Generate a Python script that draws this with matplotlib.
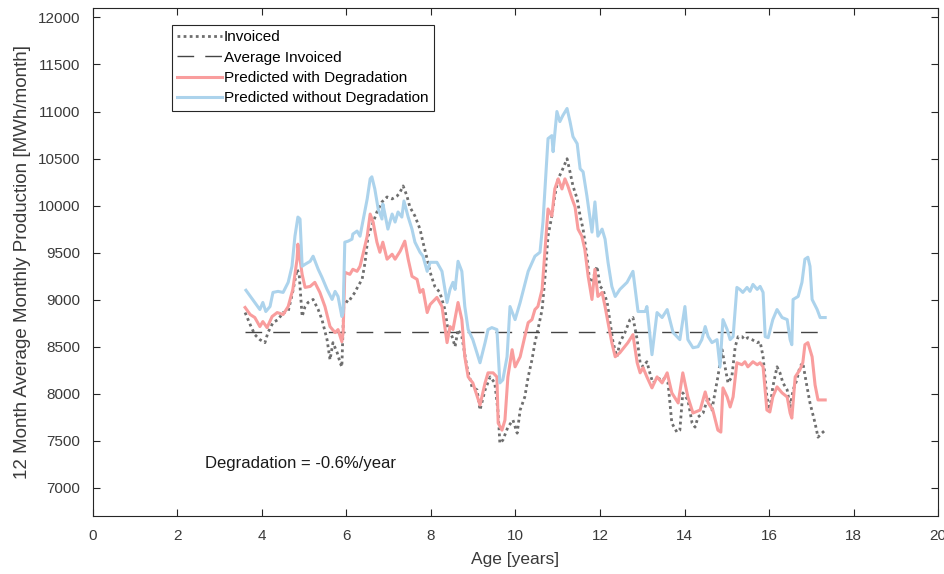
import matplotlib
matplotlib.use('Agg')
import matplotlib.pyplot as plt

plt.rcParams['font.family'] = ['Liberation Sans', 'DejaVu Sans']

# Predicted without degradation
age_nodeg = [3.62, 3.83, 3.95, 4.02, 4.09, 4.19, 4.26, 4.38, 4.50, 4.62, 4.71, 4.78, 4.85, 4.90, 4.95,
             5.02, 5.14, 5.21, 5.33, 5.42, 5.54, 5.66, 5.73, 5.80, 5.89, 5.92, 5.96, 6.04, 6.13, 6.15,
             6.25, 6.32, 6.39, 6.49, 6.56, 6.60, 6.67, 6.75, 6.84, 6.86, 6.91, 6.98, 7.08, 7.15, 7.22,
             7.31, 7.36, 7.46, 7.55, 7.62, 7.74, 7.81, 7.91, 7.98, 8.14, 8.26, 8.38, 8.45, 8.52, 8.57,
             8.64, 8.73, 8.80, 8.88, 8.99, 9.16, 9.28, 9.35, 9.44, 9.56, 9.63, 9.70, 9.80, 9.87, 9.99,
             10.11, 10.30, 10.46, 10.58, 10.65, 10.77, 10.86, 10.89, 10.98, 11.05, 11.12, 11.22, 11.29,
             11.36, 11.46, 11.53, 11.60, 11.69, 11.81, 11.88, 11.95, 12.05, 12.12, 12.19, 12.28, 12.36,
             12.47, 12.64, 12.78, 12.90, 13.07, 13.11, 13.23, 13.35, 13.47, 13.59, 13.73, 13.89, 14.01,
             14.08, 14.20, 14.32, 14.41, 14.49, 14.56, 14.65, 14.77, 14.84, 14.91, 15.01, 15.08, 15.15,
             15.24, 15.31, 15.38, 15.48, 15.55, 15.62, 15.72, 15.79, 15.86, 15.91, 15.98, 16.09, 16.19,
             16.31, 16.43, 16.50, 16.54, 16.57, 16.69, 16.78, 16.85, 16.92, 16.97, 17.02, 17.14, 17.21, 17.33]
prod_nodeg = [9100, 8970, 8895, 8970, 8874, 8927, 9077, 9088, 9077, 9184, 9355, 9675, 9878, 9857, 9355,
              9376, 9408, 9462, 9323, 9237, 9109, 9002, 9088, 9034, 8821, 8863, 9611, 9622, 9643, 9697,
              9729, 9675, 9836, 10071, 10284, 10306, 10177, 9964, 9857, 10017, 9910, 9750, 9910, 9825, 9932,
              9878, 10049, 9878, 9750, 9611, 9504, 9462, 9301, 9397, 9397, 9301, 8970, 9109, 9184, 9109,
              9408, 9301, 8927, 8682, 8575, 8329, 8543, 8682, 8703, 8682, 8115, 8147, 8393, 8927, 8788,
              8970, 9301, 9462, 9504, 9825, 10712, 10744, 10573, 11000, 10893, 10957, 11032, 10893,
              10733, 10658, 10391, 10359, 10103, 9718, 10039, 9675, 9750, 9643, 9397, 9141, 9034,
              9109, 9184, 9301, 8874, 8874, 8927, 8415, 8863, 8810, 8895, 8650, 8575, 8927,
              8575, 8489, 8500, 8575, 8714, 8607, 8543, 8575, 8286, 8788, 8682, 8575, 8607,
              9130, 9109, 9077, 9130, 9088, 9162, 9109, 9141, 9077, 8607, 8596, 8788, 8895,
              8810, 8788, 8575, 8521, 9002, 9034, 9184, 9430, 9451, 9355, 9002, 8895, 8810, 8810]

# Predicted with degradation
age_deg = [3.60, 3.72, 3.83, 3.95, 4.02, 4.12, 4.24, 4.36, 4.50, 4.62, 4.73, 4.83, 4.85, 4.95, 5.02,
           5.14, 5.25, 5.37, 5.49, 5.61, 5.73, 5.80, 5.89, 5.92, 5.96, 6.08, 6.15, 6.25, 6.32, 6.39,
           6.49, 6.56, 6.63, 6.72, 6.79, 6.86, 6.96, 7.08, 7.15, 7.27, 7.38, 7.46, 7.55, 7.67, 7.74,
           7.81, 7.91, 7.98, 8.14, 8.26, 8.38, 8.45, 8.52, 8.64, 8.73, 8.80, 8.88, 8.99, 9.16, 9.28,
           9.35, 9.47, 9.56, 9.59, 9.68, 9.75, 9.82, 9.92, 9.99, 10.11, 10.22, 10.30, 10.39, 10.46,
           10.53, 10.63, 10.70, 10.77, 10.86, 10.93, 11.01, 11.10, 11.17, 11.24, 11.34, 11.41, 11.48,
           11.57, 11.64, 11.72, 11.81, 11.88, 11.95, 12.05, 12.12, 12.19, 12.28, 12.36, 12.47, 12.66,
           12.78, 12.88, 12.95, 13.02, 13.11, 13.23, 13.35, 13.47, 13.59, 13.70, 13.85, 13.96, 14.08,
           14.20, 14.37, 14.49, 14.56, 14.67, 14.79, 14.86, 14.91, 15.01, 15.08, 15.15, 15.24, 15.36,
           15.43, 15.50, 15.62, 15.72, 15.79, 15.86, 15.95, 16.02, 16.09, 16.19, 16.31, 16.43, 16.50,
           16.54, 16.62, 16.73, 16.80, 16.85, 16.92, 17.02, 17.09, 17.16, 17.33]
prod_deg = [8917, 8842, 8810, 8714, 8767, 8703, 8821, 8863, 8842, 8927, 9109, 9430, 9590, 9269, 9130,
            9141, 9184, 9077, 8927, 8714, 8650, 8682, 8553, 8650, 9291, 9269, 9323, 9301, 9355, 9483,
            9675, 9910, 9825, 9611, 9504, 9611, 9430, 9483, 9430, 9515, 9622, 9430, 9248, 9216, 9077,
            9109, 8863, 8949, 9024, 8927, 8543, 8714, 8682, 8970, 8788, 8393, 8179, 8115, 7880, 8115,
            8222, 8222, 8179, 7688, 7613, 7720, 8179, 8468, 8286, 8393, 8607, 8756, 8788, 8895,
            8927, 9109, 9536, 9964, 9889, 10177, 10284, 10177, 10284, 10209, 10071, 9985, 9750,
            9675, 9536, 9248, 9002, 9323, 9034, 9077, 8927, 8756, 8543, 8393, 8436, 8543,
            8628, 8329, 8222, 8276, 8179, 8062, 8179, 8115, 8222, 8009, 7902, 8222, 7966,
            7795, 7827, 8019, 7902, 7827, 7613, 7592, 8062, 7966, 7859, 7966, 8329, 8308,
            8340, 8286, 8340, 8308, 8329, 8286, 7827, 7806, 7966, 8073, 8009, 7966, 7795,
            7741, 8179, 8254, 8329, 8521, 8543, 8393, 8094, 7934, 7934]

# Invoiced
age_inv = [3.60, 3.72, 3.83, 3.95, 4.07, 4.14, 4.26, 4.38, 4.50, 4.62, 4.73, 4.83, 4.88, 4.95, 5.02,
           5.09, 5.21, 5.33, 5.42, 5.54, 5.61, 5.68, 5.78, 5.85, 5.89, 5.94, 6.04, 6.13, 6.20, 6.27,
           6.37, 6.44, 6.51, 6.60, 6.72, 6.84, 6.96, 7.08, 7.20, 7.27, 7.34, 7.43, 7.50, 7.62, 7.74,
           7.81, 7.91, 7.98, 8.09, 8.21, 8.33, 8.40, 8.50, 8.57, 8.64, 8.73, 8.85, 8.97, 9.09, 9.16,
           9.28, 9.40, 9.51, 9.59, 9.63, 9.70, 9.82, 9.94, 10.04, 10.11, 10.22, 10.30, 10.39, 10.46,
           10.53, 10.63, 10.70, 10.77, 10.86, 10.93, 11.01, 11.12, 11.22, 11.29, 11.36, 11.46, 11.53,
           11.60, 11.69, 11.76, 11.83, 11.93, 12.00, 12.07, 12.17, 12.24, 12.31, 12.40, 12.47, 12.59,
           12.71, 12.78, 12.88, 12.95, 13.02, 13.11, 13.18, 13.25, 13.37, 13.49, 13.61, 13.70, 13.82,
           13.89, 13.96, 14.08, 14.18, 14.25, 14.32, 14.44, 14.56, 14.65, 14.72, 14.79, 14.89, 14.96,
           15.03, 15.12, 15.20, 15.27, 15.36, 15.43, 15.50, 15.60, 15.72, 15.79, 15.86, 15.95, 16.02,
           16.09, 16.19, 16.26, 16.33, 16.43, 16.50, 16.57, 16.66, 16.73, 16.80, 16.90, 16.97, 17.09,
           17.16, 17.25, 17.33]
prod_inv = [8863, 8735, 8628, 8575, 8543, 8650, 8756, 8788, 8863, 8874, 9088, 9323, 9269, 8821, 8927,
            8970, 9002, 8895, 8788, 8575, 8361, 8543, 8436, 8329, 8286, 9002, 8970, 9034, 9077, 9141,
            9216, 9397, 9675, 9782, 9932, 10039, 10092, 10071, 10103, 10145, 10209, 10103, 9985, 9889, 9750,
            9611, 9430, 9291, 9141, 9077, 8895, 8682, 8607, 8500, 8682, 8607, 8286, 8073, 8041, 7827,
            8041, 8179, 8115, 7795, 7474, 7506, 7645, 7720, 7581, 7827, 7966, 8179, 8361, 8543,
            8682, 8895, 9248, 9675, 9889, 10103, 10284, 10391, 10498, 10359, 10209, 10071, 9889,
            9750, 9462, 9184, 9216, 9355, 9141, 9109, 8970, 8756, 8543, 8393, 8543, 8650,
            8788, 8810, 8575, 8329, 8286, 8340, 8222, 8115, 8147, 8179, 8115, 7688, 7592,
            7613, 8009, 7934, 7688, 7645, 7752, 7795, 7966, 7827, 8009, 8179, 8468, 8286,
            8115, 8179, 8500, 8607, 8607, 8575, 8596, 8575, 8543, 8553, 8393, 7966, 7827,
            8073, 8286, 8222, 8115, 8041, 7859, 8041, 8147, 8286, 8329, 8073, 7902, 7688,
            7538, 7581, 7613]

avg_invoiced = 8660
avg_span = [3.60, 17.33]

fig = plt.figure(figsize=(9.45, 5.74), dpi=100)
ax = fig.add_axes([0.0984, 0.101, 0.8942, 0.885])

ax.plot(age_inv, prod_inv, color='#6e6e6e', linestyle=(0, (1, 1.2)), linewidth=2.0, label='Invoiced')
ax.plot(avg_span, [avg_invoiced, avg_invoiced], color='#444444', linestyle=(0, (12, 8)),
        linewidth=1.0, label='Average Invoiced')
ax.plot(age_deg, prod_deg, color='#f99d9d', linewidth=2.2, label='Predicted with Degradation')
ax.plot(age_nodeg, prod_nodeg, color='#acd3ec', linewidth=2.2, label='Predicted without Degradation')

ax.set_xlim(0, 20)
ax.set_ylim(6700, 12100)
ax.set_xticks(range(0, 21, 2))
ax.set_yticks(range(7000, 12001, 500))
ax.tick_params(direction='in', top=True, right=True, length=5, width=0.8, pad=9,
               labelsize=11, colors='#262626', labelcolor='#3a3a3a')
for s in ax.spines.values():
    s.set_color('#262626')
    s.set_linewidth(0.8)

ax.set_xlabel('Age [years]', fontsize=12.5, color='#3a3a3a', labelpad=7)
ax.set_ylabel('12 Month Average Monthly Production [MWh/month]', fontsize=13.5, color='#3a3a3a',
              labelpad=5)

ax.text(2.65, 7261, 'Degradation = -0.6%/year', fontsize=12, va='center', color='#1a1a1a')

leg = ax.legend(loc='upper left', bbox_to_anchor=(0.0935, 0.967), fontsize=11, frameon=True,
                fancybox=False, framealpha=1, edgecolor='#262626', handlelength=2.9,
                handletextpad=0.15, borderpad=0.35, labelspacing=0.42, borderaxespad=0)
leg.get_frame().set_linewidth(0.8)

fig.savefig('out.png', dpi=100)
